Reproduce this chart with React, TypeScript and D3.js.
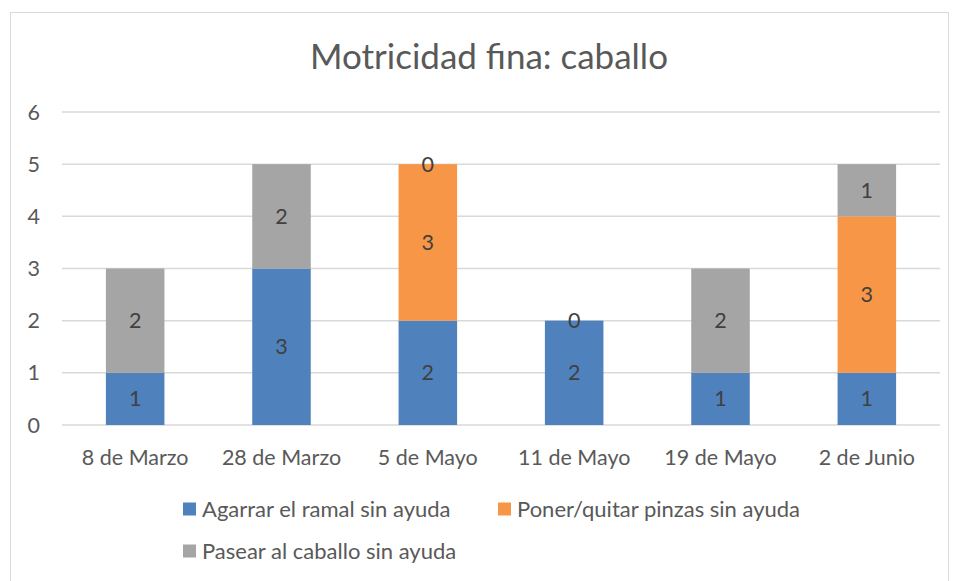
import React from "react";
import * as d3 from "d3";

const categories = ["8 de Marzo", "28 de Marzo", "5 de Mayo", "11 de Mayo", "19 de Mayo", "2 de Junio"];
const seriesNames = ["Agarrar el ramal sin ayuda", "Poner/quitar pinzas sin ayuda", "Pasear al caballo sin ayuda"];
const agarrar: (number | null)[] = [1, 3, 2, 2, 1, 1];
const poner: (number | null)[] = [null, null, 3, null, null, 3];
const pasear: (number | null)[] = [2, 2, 0, 0, 2, 1];
const yTicks = [0, 1, 2, 3, 4, 5, 6];
const colors = ["#4F81BD", "#F79646", "#A5A5A5"];

const FONT = "Lato, 'Open Sans', sans-serif";
const FS = 21.5;

export default function App() {
  const W = 957, H = 581;
  const left = 62, right = 940, top = 112, bottom = 425;
  const x = d3.scaleBand<string>().domain(categories).range([left, right]).paddingInner(0.6).paddingOuter(0.3);
  const y = d3.scaleLinear().domain([0, 6]).range([bottom, top]);
  const series = [agarrar, poner, pasear];

  const segs: { i: number; s: number; y0: number; y1: number; v: number }[] = [];
  categories.forEach((c, i) => {
    let acc = 0;
    series.forEach((arr, s) => {
      const v = arr[i];
      if (v === null || v === undefined) return;
      segs.push({ i, s, y0: acc, y1: acc + v, v });
      acc += v;
    });
  });

  return (
    <svg width={W} height={H} style={{ position: "absolute", left: 0, top: 0, background: "#fff" }}>
      <rect x={10.5} y={12.5} width={938} height={600} fill="#fff" stroke="#d9d9d9" strokeWidth={1} />
      <text x={489} y={69} textAnchor="middle" fontFamily={FONT} fontSize={35} fill="#595959">
        Motricidad fina: caballo
      </text>
      {yTicks.map((t) => (
        <g key={t}>
          <line x1={left} x2={right} y1={y(t)} y2={y(t)} stroke="#d9d9d9" strokeWidth={1.5} />
          <text x={40} y={y(t)} dy="0.35em" textAnchor="end" fontFamily={FONT} fontSize={FS} fill="#595959">
            {t}
          </text>
        </g>
      ))}
      {segs.map((d, k) => (
        <rect
          key={k}
          x={x(categories[d.i])}
          width={x.bandwidth()}
          y={y(d.y1)}
          height={y(d.y0) - y(d.y1)}
          fill={colors[d.s]}
        />
      ))}
      {segs.map((d, k) => (
        <text
          key={"l" + k}
          x={(x(categories[d.i]) as number) + x.bandwidth() / 2}
          y={(y(d.y0) + y(d.y1)) / 2}
          dy="0.35em"
          textAnchor="middle"
          fontFamily={FONT}
          fontSize={FS}
          fill="#404040"
        >
          {d.v}
        </text>
      ))}
      {categories.map((c) => (
        <text
          key={c}
          x={(x(c) as number) + x.bandwidth() / 2}
          y={457}
          dy="0.35em"
          textAnchor="middle"
          fontFamily={FONT}
          fontSize={FS}
          fill="#595959"
        >
          {c}
        </text>
      ))}
      {seriesNames.map((n, s) => {
        const lx = s === 1 ? 498 : 183;
        const ly = s === 2 ? 551 : 509;
        return (
          <g key={n}>
            <rect x={lx} y={ly - 6.5} width={13} height={13} fill={colors[s]} />
            <text x={lx + 19} y={ly} dy="0.35em" fontFamily={FONT} fontSize={FS + 0.5} fill="#595959">
              {n}
            </text>
          </g>
        );
      })}
    </svg>
  );
}
